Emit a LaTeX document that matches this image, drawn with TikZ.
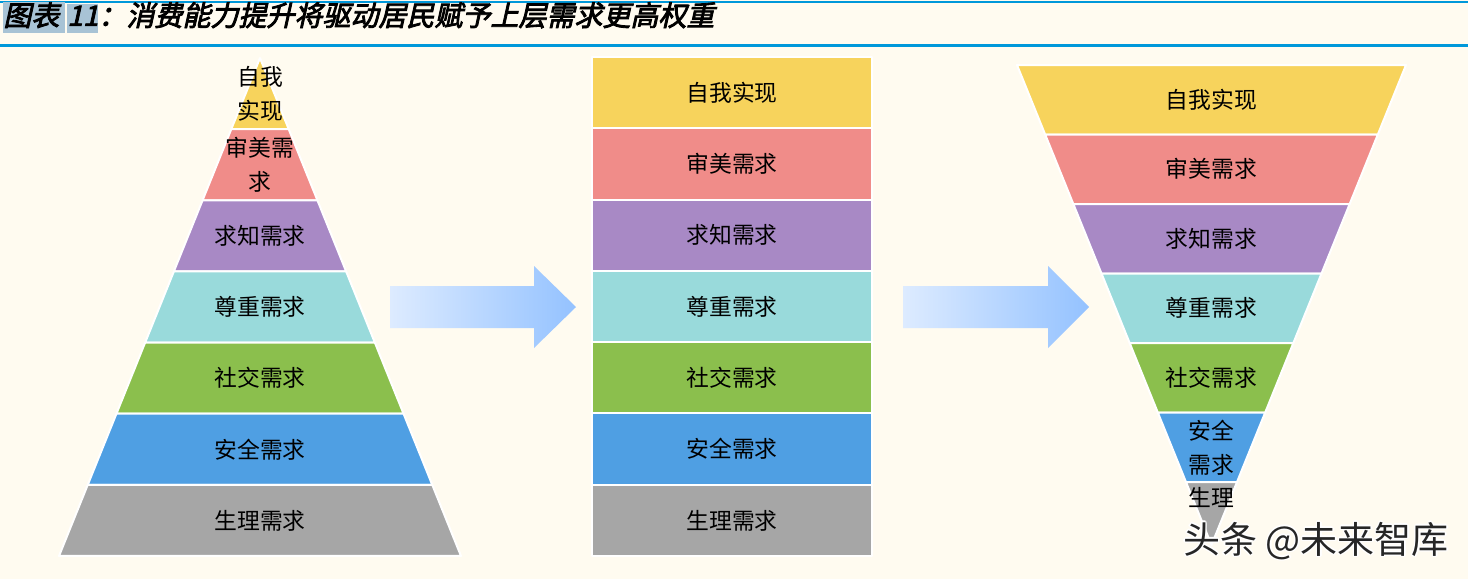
\documentclass[tikz,border=0pt]{standalone}
\usepackage{fontspec}
\newfontfamily\cjk{Noto Sans CJK SC}
\newfontfamily\cjktitle[FakeSlant=0.22,FakeBold=3]{Noto Sans CJK SC}
\usetikzlibrary{calc}

\definecolor{bgc}{HTML}{FFFBF0}
\definecolor{rulec}{HTML}{0098DA}
\definecolor{tagc}{HTML}{A8C3D5}
\definecolor{selfc}{HTML}{F7D35C}
\definecolor{aesc}{HTML}{F08C89}
\definecolor{knowc}{HTML}{A889C5}
\definecolor{estc}{HTML}{99DADB}
\definecolor{socc}{HTML}{8BBF4D}
\definecolor{safec}{HTML}{4F9FE3}
\definecolor{physc}{HTML}{A6A6A6}
\definecolor{arrowl}{HTML}{DDEBFF}
\definecolor{arrowr}{HTML}{94C2FF}

\tikzset{
  band/.style={draw=white, line width=1pt, line join=round},
  tag/.style={font=\cjk\fontsize{11.4pt}{17pt}\selectfont, align=center, text=black, inner sep=0pt},
  push/.style={left color=arrowl, right color=arrowr, draw=none},
  wmark/.style={font=\cjk\fontsize{18.5pt}{20pt}\selectfont, inner sep=0pt}
}

\begin{document}
\begin{tikzpicture}[x=0.5pt,y=-0.5pt]
  % ---- page and title bar ----
  \fill[bgc] (0,0) rectangle (1468,579);
  \useasboundingbox (0,0) rectangle (1468,579);
  \draw[rulec, line width=1.2pt] (0,2) -- (1468,2);
  \draw[rulec, line width=1.2pt] (0,45.5) -- (1468,45.5);
  \node[anchor=west, inner sep=0pt, font=\cjktitle\fontsize{14pt}{16pt}\selectfont] (title) at (3,17.5)
    {\setlength\fboxsep{0pt}\colorbox{tagc}{\rule[-3.5pt]{0pt}{14.5pt}图表\hspace{3pt}}\hspace{1pt}\colorbox{tagc}{\rule[-3.5pt]{0pt}{14.5pt}11}：消费能力提升将驱动居民赋予上层需求更高权重};

  % ---- left: pyramid, apex on top ----
  \foreach \col/\txt [count=\i from 0] in {selfc/{自我\\实现}, aesc/{审美需\\求}, knowc/求知需求,
      estc/尊重需求, socc/社交需求, safec/安全需求, physc/生理需求} {
    \pgfmathsetmacro\yt{58+\i*71.14}
    \pgfmathsetmacro\yb{\yt+71.14}
    \pgfmathsetmacro\wt{0.4036*(\yt-58)}
    \pgfmathsetmacro\wb{0.4036*(\yb-58)}
    \filldraw[band, fill=\col] (260-\wt,\yt) -- (260+\wt,\yt) -- (260+\wb,\yb) -- (260-\wb,\yb) -- cycle;
    \node[tag] (pyr-\i) at (260,\yt+35.57) {\txt};
  }

  % ---- middle: equal bars ----
  \foreach \col/\txt [count=\i from 0] in {selfc/自我实现, aesc/审美需求, knowc/求知需求,
      estc/尊重需求, socc/社交需求, safec/安全需求, physc/生理需求} {
    \pgfmathsetmacro\yt{57+\i*71.29}
    \filldraw[band, fill=\col] (592,\yt) rectangle (872,\yt+71.29);
    \node[tag] (bar-\i) at (732,\yt+35.64) {\txt};
  }

  % ---- right: funnel, apex at the bottom ----
  \foreach \col/\txt [count=\i from 0] in {selfc/自我实现, aesc/审美需求, knowc/求知需求,
      estc/尊重需求, socc/社交需求, safec/{安全\\需求}, physc/{}} {
    \pgfmathsetmacro\yt{65+\i*69.5}
    \pgfmathsetmacro\yb{min(\yt+69.5,545)}
    \pgfmathsetmacro\wt{0.4052*(545-\yt)}
    \pgfmathsetmacro\wb{0.4052*(545-\yb)}
    \filldraw[band, fill=\col] (1211.5-\wt,\yt) -- (1211.5+\wt,\yt) -- (1211.5+\wb,\yb) -- (1211.5-\wb,\yb) -- cycle;
    \node[tag] (fun-\i) at (1211.5,\yt+34.75) {\txt};
  }
  \node[tag] (fun-7) at (1211.5,497) {生理};

  % ---- arrows between the shapes ----
  \foreach \ax/\hx/\tx [count=\k] in {390/534/576, 903/1048/1089}
    \shade[push] (\ax,286) -- (\hx,286) -- (\hx,266) -- (\tx,307) -- (\hx,348) -- (\hx,328) -- (\ax,328) -- cycle;

  % ---- watermark ----
  \foreach \dx/\dy in {-1.5/0, 1.5/0, 0/-1.5, 0/1.5, -1/-1, 1/1, -1/1, 1/-1}
    \node[wmark, text=white] at ($(1316,541)+(\dx,\dy)$) {头条 @未来智库};
  \node[wmark, text=black!85] (mark) at (1316,541) {头条 @未来智库};
\end{tikzpicture}
\end{document}
